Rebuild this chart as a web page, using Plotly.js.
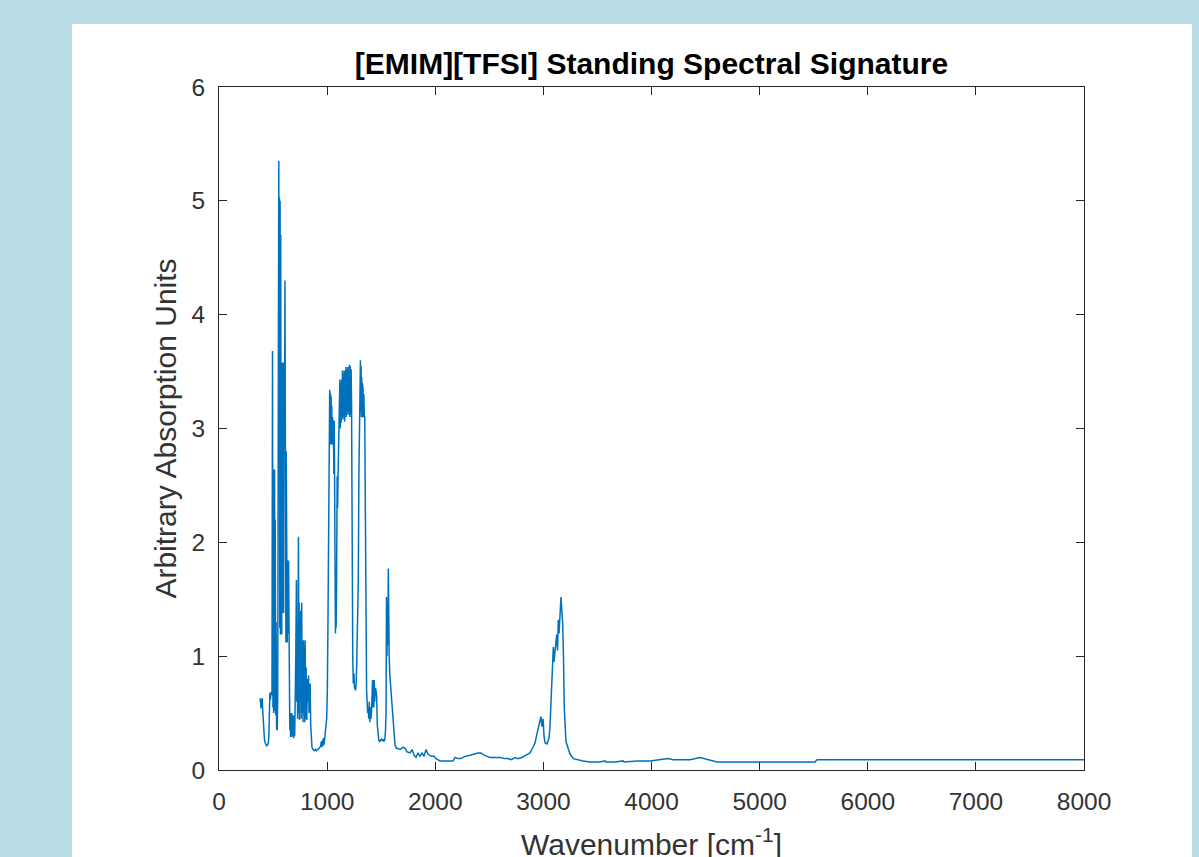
<!DOCTYPE html>
<html>
<head>
<meta charset="utf-8">
<script src="https://cdn.plot.ly/plotly-3.0.1.min.js"></script>
<style>
  html, body { margin: 0; padding: 0; width: 1199px; height: 857px; overflow: hidden; background: #b8dde6; }
  #chart { position: absolute; left: 72px; top: 24px; width: 1120px; height: 860px; background: #ffffff; }
</style>
</head>
<body>
<div id="chart"></div>
<script>
// Wavenumber [cm^-1]
const wavenumber = [
  380,384,388,392,396,400,404,409,414,420,427,434,441,448,455,461,466,471,476,481,486,490,
  495,499,502,505,508,511,514,517,520,524,528,533,538,543,548,553,556,559,562,565,568,571,
  574,577,580,583,586,589,592,595,598,601,604,607,610,613,616,619,622,625,628,631,635,639,
  643,647,651,655,659,662,666,669,673,676,680,684,688,692,696,700,705,710,716,719,723,727,
  731,735,738,741,744,748,752,756,760,765,769,773,777,781,785,789,793,797,801,806,812,818,
  823,828,833,838,843,848,853,860,868,876,884,892,900,908,916,924,932,940,946,950,955,960,
  965,970,975,982,990,996,1002,1007,1011,1017,1024,1028,1031,1034,1037,1040,1043,1046,1050,
  1054,1058,1062,1066,1070,1074,1077,1080,1083,1087,1093,1097,1101,1106,1110,1114,1118,1122,
  1126,1130,1134,1138,1142,1146,1150,1154,1158,1162,1166,1170,1174,1178,1182,1186,1190,1194,
  1198,1202,1206,1210,1214,1218,1222,1226,1230,1233,1237,1242,1248,1253,1258,1263,1268,1273,
  1280,1288,1294,1299,1302,1305,1308,1311,1314,1317,1320,1323,1326,1329,1332,1336,1340,1344,
  1348,1352,1356,1360,1365,1370,1375,1380,1385,1390,1395,1400,1405,1410,1415,1420,1424,1428,
  1432,1436,1440,1446,1452,1458,1464,1470,1478,1486,1494,1502,1510,1518,1526,1534,1540,1545,
  1549,1554,1558,1562,1566,1570,1574,1580,1588,1597,1605,1612,1620,1628,1640,
  1647,1674,1702,1720,1739,1767,1785,1804,1822,1841,1859,1878,1896,1915,1933,1961,1989,2007,
  2026,2044,2090,2137,2164,2183,2211,2238,2275,2322,2359,2396,2423,2451,2479,2506,2553,2599,
  2645,2673,2701,2738,2765,2802,2839,2876,2904,2923,2941,2960,2969,2978,2987,2997,3006,3015,
  3034,3052,3061,3077,3092,3098,3108,3123,3131,3138,3145,3154,3163,3172,3178,3186,3193,3209,
  3230,3246,3277,3311,3367,3431,3524,3570,3579,3663,3737,3746,3866,3986,4153,4199,4356,4449,
  4495,4560,4606,5004,5374,5512,5531,5559,6299,7224,8000
];
// Arbitrary absorption units
const absorbance = [
  0.60,0.63,0.54,0.62,0.55,0.63,0.53,0.42,0.33,0.27,0.24,0.22,0.21,0.22,0.23,0.30,0.50,0.68,0.62,0.68,0.66,0.70,
  3.68,0.55,2.64,0.50,2.40,0.60,2.64,0.52,2.20,0.48,1.30,0.36,0.35,0.62,2.60,5.35,2.60,5.03,1.25,5.00,1.19,4.70,
  1.40,3.58,1.19,3.55,1.38,3.58,1.45,3.50,1.38,3.58,1.50,3.40,4.30,1.40,2.83,1.12,2.80,1.20,2.75,1.12,1.84,1.20,
  1.84,1.12,0.80,0.35,0.50,0.29,0.48,0.30,0.50,0.29,0.45,0.30,0.48,0.28,0.40,0.30,0.52,1.00,1.67,0.60,1.05,0.45,
  1.50,2.05,0.50,1.47,0.44,1.30,0.60,1.40,0.45,1.47,0.50,1.14,0.42,1.14,0.50,1.10,0.42,1.14,0.45,0.90,0.44,0.80,
  0.60,0.83,0.50,0.76,0.76,0.40,0.24,0.20,0.18,0.17,0.17,0.18,0.17,0.18,0.18,0.19,0.20,0.21,0.25,0.20,0.26,0.21,
  0.28,0.22,0.25,0.30,0.40,0.45,0.70,1.20,1.67,2.50,3.34,2.90,3.31,2.86,3.28,2.90,3.20,2.86,3.10,
  2.90,3.07,2.60,3.07,1.35,1.55,1.20,1.55,1.25,1.60,2.58,2.30,2.58,3.00,2.90,3.10,3.43,3.00,
  3.40,3.05,3.43,3.10,3.51,3.08,3.48,3.10,3.51,3.06,3.50,3.12,3.54,3.10,3.52,3.15,3.54,3.12,
  3.50,3.14,3.56,3.10,3.55,3.12,3.52,3.20,2.00,1.43,1.00,0.76,0.85,0.72,0.72,0.70,0.75,0.90,
  1.20,1.64,2.60,3.30,3.60,3.20,3.60,3.15,3.55,3.10,3.45,3.10,3.40,3.12,3.35,3.10,3.30,3.10,
  3.10,2.50,1.50,0.82,0.70,0.60,0.50,0.55,0.45,0.60,0.42,0.55,0.45,0.50,0.60,0.79,0.55,0.79,
  0.55,0.79,0.60,0.72,0.70,0.65,0.40,0.29,0.26,0.25,0.26,0.27,0.26,0.27,0.25,0.27,0.35,0.50,
  1.52,1.00,1.40,1.10,1.77,1.20,1.00,0.83,0.72,0.64,0.45,0.37,0.28,0.22,0.19,
  0.19,0.18,0.20,0.19,0.16,0.15,0.18,0.13,0.11,0.15,0.12,0.15,0.12,0.18,0.14,0.12,0.12,0.10,
  0.09,0.08,0.08,0.08,0.08,0.11,0.10,0.10,0.12,0.13,0.14,0.15,0.15,0.13,0.12,0.11,0.11,0.11,
  0.10,0.10,0.09,0.11,0.10,0.11,0.13,0.15,0.20,0.24,0.32,0.40,0.43,0.47,0.38,0.45,0.30,0.24,
  0.23,0.28,0.38,0.82,1.08,0.95,1.03,1.19,1.05,1.32,1.20,1.39,1.52,1.38,1.30,1.00,0.55,0.25,
  0.18,0.14,0.10,0.09,0.08,0.07,0.07,0.08,0.07,0.07,0.08,0.07,0.08,0.08,0.10,0.09,0.09,0.11,
  0.10,0.08,0.07,0.07,0.07,0.07,0.09,0.09,0.09,0.09,0.09
];
const xTicks = [0,1000,2000,3000,4000,5000,6000,7000,8000];
const yTicks = [0,1,2,3,4,5,6];

const FONT = 'Liberation Sans, Arial, Helvetica, sans-serif';

const axisCommon = {
  showline: true, mirror: 'ticks', linecolor: '#262626', linewidth: 1,
  ticks: 'inside', ticklen: 8, tickwidth: 1, tickcolor: '#262626',
  showgrid: false, zeroline: false,
  tickfont: { family: FONT, size: 24.5, color: '#333333' }
};

const trace = {
  x: wavenumber, y: absorbance, type: 'scatter', mode: 'lines',
  line: { color: '#0072BD', width: 1.5 }, hoverinfo: 'x+y'
};

const layout = {
  width: 1120, height: 860,
  paper_bgcolor: '#ffffff', plot_bgcolor: '#ffffff',
  margin: { l: 147, r: 108, t: 63, b: 114 },
  showlegend: false,
  font: { family: FONT, color: '#262626' },
  title: {
    text: '[EMIM][TFSI] Standing Spectral Signature',
    font: { size: 30, weight: 'bold', color: '#000000', family: FONT },
    x: 0.5, xref: 'paper', xanchor: 'center',
    y: 1, yref: 'paper', yanchor: 'bottom', pad: { b: 13 }
  },
  xaxis: Object.assign({}, axisCommon, {
    range: [0, 8000], tickvals: xTicks, ticklabelstandoff: 10,
    title: { text: 'Wavenumber [cm<sup>-1</sup>]', font: { size: 30, color: '#333333' }, standoff: 19 }
  }),
  yaxis: Object.assign({}, axisCommon, {
    range: [0, 6], tickvals: yTicks, ticklabelstandoff: 8,
    title: { text: 'Arbitrary Absorption Units', font: { size: 30, color: '#333333' }, standoff: 5 }
  })
};

Plotly.newPlot('chart', [trace], layout, { displayModeBar: false, staticPlot: true });
</script>
</body>
</html>
